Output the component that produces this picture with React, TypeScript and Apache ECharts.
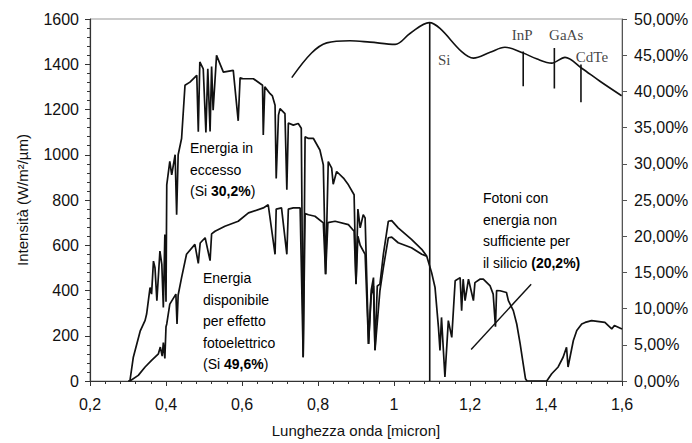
import React, { useEffect, useRef } from "react";
import * as echarts from "echarts";

// wavelength (micron), intensity (W/m2/um) — total solar spectrum
const totalSpectrum: [number, number][] = [
  [0.3, 0], [0.305, 0], [0.314, 105], [0.332, 220], [0.345, 268], [0.349, 296], [0.358, 413],
  [0.362, 384], [0.367, 530], [0.371, 501], [0.376, 355], [0.384, 574], [0.389, 516],
  [0.393, 325], [0.397, 647], [0.4, 350], [0.402, 867], [0.41, 971], [0.415, 911],
  [0.424, 1000], [0.428, 735], [0.432, 1000], [0.441, 1072], [0.45, 1307], [0.463, 1321],
  [0.481, 1351], [0.485, 1102], [0.489, 1410], [0.498, 1380], [0.505, 1099], [0.51, 1380],
  [0.516, 1103], [0.52, 1390], [0.524, 1197], [0.533, 1439], [0.551, 1365], [0.577, 1373],
  [0.59, 1150], [0.595, 1340],
  [0.603, 1336], [0.63, 1336], [0.654, 1307], [0.656, 1087], [0.66, 1300], [0.674, 1270],
  [0.68, 1260], [0.687, 1219], [0.69, 895], [0.696, 1175], [0.7, 1204], [0.713, 1182],
  [0.718, 845], [0.722, 1140], [0.735, 1131], [0.748, 1138], [0.756, 1117], [0.761, 105],
  [0.766, 1080], [0.775, 1072], [0.788, 1072], [0.805, 1021], [0.814, 955], [0.82, 472],
  [0.827, 970], [0.836, 941], [0.84, 870], [0.849, 926], [0.867, 897], [0.88, 867],
  [0.895, 823], [0.9, 428], [0.905, 760], [0.911, 677], [0.919, 735], [0.924, 721],
  [0.933, 164], [0.94, 400], [0.946, 457], [0.95, 136], [0.956, 420], [0.963, 428],
  [0.972, 560], [0.985, 706], [0.994, 709], [1.011, 677], [1.046, 626], [1.073, 582],
  [1.086, 552], [1.099, 479], [1.108, 413], [1.117, 237], [1.121, 135], [1.125, 281],
  [1.134, 18], [1.143, 267], [1.152, 193], [1.161, 443], [1.174, 457], [1.178, 311],
  [1.182, 450], [1.187, 355], [1.196, 450], [1.209, 355], [1.213, 435], [1.226, 450],
  [1.235, 450], [1.253, 420], [1.261, 384], [1.267, 240],
  [1.27, 400], [1.279, 399], [1.296, 391], [1.301, 355], [1.314, 311], [1.323, 252],
  [1.332, 164], [1.34, 76], [1.346, 10], [1.35, 0], [1.402, 0], [1.415, 32], [1.432, 62],
  [1.445, 105], [1.454, 149], [1.458, 62], [1.472, 179], [1.481, 223], [1.494, 252],
  [1.503, 259], [1.52, 267], [1.555, 259], [1.573, 230], [1.58, 245], [1.6, 230],
];

// energy usable by the photoelectric effect (silicon)
const usableSpectrum: [number, number][] = [
  [0.305, 0], [0.327, 25], [0.345, 62], [0.362, 91], [0.38, 120], [0.385, 150], [0.39, 110],
  [0.393, 170], [0.397, 100], [0.4, 240], [0.402, 252], [0.41, 340], [0.426, 384],
  [0.429, 252], [0.432, 380], [0.441, 457], [0.454, 560], [0.476, 604], [0.485, 520],
  [0.49, 610], [0.503, 633], [0.516, 532], [0.52, 650], [0.529, 662], [0.555, 684],
  [0.59, 706], [0.617, 743], [0.656, 765], [0.669, 779], [0.687, 560], [0.69, 760],
  [0.704, 765], [0.718, 560], [0.722, 760], [0.735, 765], [0.753, 765], [0.761, 105],
  [0.766, 740], [0.775, 735], [0.792, 728], [0.814, 699], [0.82, 472], [0.826, 700],
  [0.845, 706], [0.88, 691], [0.895, 662], [0.9, 430], [0.905, 640], [0.911, 600],
  [0.924, 560], [0.933, 164], [0.94, 380], [0.946, 420], [0.95, 136], [0.963, 400],
  [0.972, 501], [0.985, 633], [0.994, 636], [1.011, 611], [1.046, 589], [1.073, 560],
  [1.086, 552],
];

// theoretical efficiency (%) vs band-gap wavelength
const efficiency: [number, number][] = [
  [0.731, 41.9], [0.783, 45.3], [0.823, 46.7], [0.884, 47.0], [0.937, 46.8], [1.003, 46.5],
  [1.042, 48.0], [1.093, 49.5], [1.121, 48.7], [1.178, 45.5], [1.209, 44.6], [1.253, 45.4],
  [1.292, 46.1], [1.34, 45.3], [1.375, 44.5], [1.415, 43.9], [1.45, 44.7], [1.494, 43.2],
  [1.542, 41.4], [1.599, 39.4],
];

const materials = ["InP", "GaAs", "CdTe"];
const materialX = [1.34, 1.422, 1.492];
const materialTop = [45.5, 46.0, 43.7];
const materialBottom = [40.7, 40.4, 38.5];
const materialLabelPos: [number, number][] = [[1.337, 47.8], [1.453, 47.8], [1.521, 44.8]];

const siliconGap = 1.094;
const siliconPeak = 49.5;
const siliconLabelPos: [number, number] = [1.132, 44.4];

const pointerLine: [number, number][] = [[1.203, 139], [1.361, 428]];

const fmtX = (v: number) => String(Math.round(v * 10) / 10).replace(".", ",");
const fmtY = (v: number) => String(Math.round(v));
const fmtPct = (v: number) => v.toFixed(2).replace(".", ",") + "%";

export default function App() {
  const ref = useRef<HTMLDivElement>(null);
  useEffect(() => {
    if (!ref.current) return;
    const chart = echarts.init(ref.current, undefined, { renderer: "svg" });
    const sans = "Liberation Sans, Arial, sans-serif";
    const serif = "Liberation Serif, Times New Roman, serif";
    const black = "#111";
    const lineSeries = (data: [number, number][], yAxisIndex = 0, width = 1.6, smooth: number | boolean = false) => ({
      type: "line",
      data,
      yAxisIndex,
      symbol: "none",
      smooth,
      lineStyle: { color: black, width },
      silent: true,
      z: 3,
    });
    const textStyleRich = {
      a: { fontFamily: sans, fontSize: 14, color: black, lineHeight: 21.5 },
      b: { fontFamily: sans, fontSize: 14, color: black, fontWeight: "bold", lineHeight: 21.5 },
    };
    const series: any[] = [
      lineSeries(totalSpectrum, 0, 1.7),
      lineSeries(usableSpectrum, 0, 1.7),
      lineSeries(efficiency, 1, 1.6, 0.35),
      lineSeries([[siliconGap, 0], [siliconGap, siliconPeak]], 1, 1.6),
      lineSeries(pointerLine, 0, 1.4),
      ...materials.map((_, i) =>
        lineSeries([[materialX[i], materialBottom[i]], [materialX[i], materialTop[i]]], 1, 1.6)
      ),
      {
        type: "scatter",
        yAxisIndex: 1,
        symbolSize: 0,
        silent: true,
        data: [
          ...materials.map((m, i) => ({ value: materialLabelPos[i], name: m })),
          { value: siliconLabelPos, name: "Si" },
        ],
        label: {
          show: true,
          position: "inside",
          formatter: (p: any) => p.name,
          fontFamily: serif,
          fontSize: 15,
          color: black,
        },
      },
    ];
    chart.setOption({
      animation: false,
      backgroundColor: "#fff",
      grid: { left: 90, right: 70, top: 19, bottom: 59, show: true, borderColor: "#999", borderWidth: 1 },
      xAxis: {
        type: "value",
        min: 0.2,
        max: 1.6,
        interval: 0.2,
        name: "Lunghezza onda [micron]",
        nameLocation: "middle",
        nameGap: 42,
        nameTextStyle: { fontFamily: sans, fontSize: 15, color: black },
        axisLine: { show: true, onZero: false, lineStyle: { color: "#333", width: 1.2 } },
        axisTick: { show: true, length: 5, lineStyle: { color: "#333" } },
        minorTick: { show: true, splitNumber: 5, length: 3, lineStyle: { color: "#333" } },
        splitLine: { show: false },
        axisLabel: { formatter: fmtX, fontFamily: sans, fontSize: 16, color: black, margin: 15 },
      },
      yAxis: [
        {
          type: "value",
          min: 0,
          max: 1600,
          interval: 200,
          name: "Intensità (W/m²/µm)",
          nameLocation: "middle",
          nameGap: 60,
          nameTextStyle: { fontFamily: sans, fontSize: 15, color: black },
          axisLine: { show: true, lineStyle: { color: "#333", width: 1.2 } },
          axisTick: { show: true, length: 5, lineStyle: { color: "#333" } },
          minorTick: { show: true, splitNumber: 5, length: 3, lineStyle: { color: "#333" } },
          splitLine: { show: false },
          axisLabel: { formatter: fmtY, fontFamily: sans, fontSize: 16, color: black, margin: 11 },
        },
        {
          type: "value",
          min: 0,
          max: 50,
          interval: 5,
          position: "right",
          axisLine: { show: true, lineStyle: { color: "#555", width: 1 } },
          axisTick: { show: true, length: 5, lineStyle: { color: "#555" } },
          splitLine: { show: false },
          axisLabel: { formatter: fmtPct, fontFamily: sans, fontSize: 16, color: black, margin: 12 },
        },
      ],
      graphic: [
        {
          type: "text",
          left: 190,
          top: 141,
          silent: true,
          style: {
            text: "{a|Energia in}\n{a|eccesso}\n{a|(Si }{b|30,2%}{a|)}",
            rich: textStyleRich,
          },
        },
        {
          type: "text",
          left: 203,
          top: 271,
          silent: true,
          style: {
            text: "{a|Energia}\n{a|disponibile}\n{a|per effetto}\n{a|fotoelettrico}\n{a|(Si }{b|49,6%}{a|)}",
            rich: textStyleRich,
          },
        },
        {
          type: "text",
          left: 483,
          top: 191,
          silent: true,
          style: {
            text: "{a|Fotoni con}\n{a|energia non}\n{a|sufficiente per}\n{a|il silicio }{b|(20,2%)}",
            rich: textStyleRich,
          },
        },
      ],
      series,
    });
    return () => chart.dispose();
  }, []);
  return <div ref={ref} style={{ width: 692, height: 443, position: "absolute", left: 0, top: 0 }} />;
}
